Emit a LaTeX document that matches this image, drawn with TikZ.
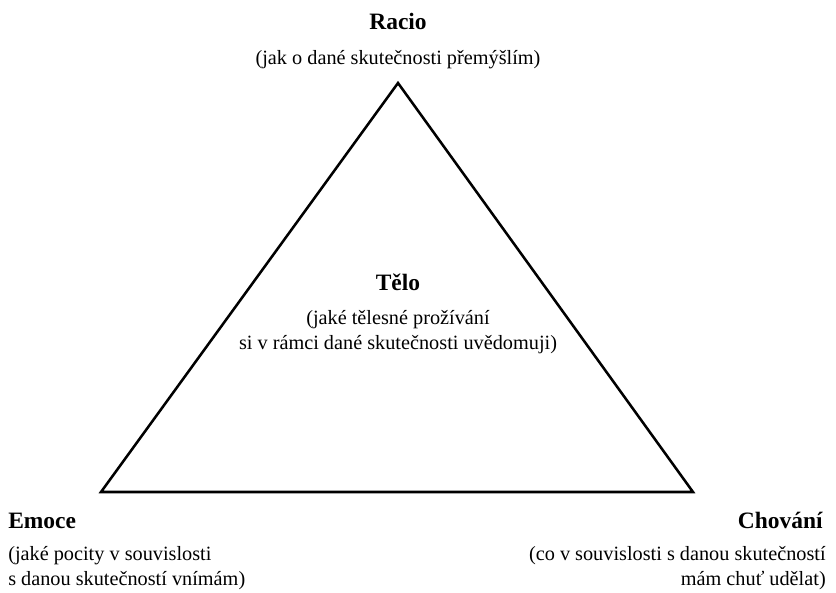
\documentclass[tikz,border=0pt]{standalone}
\usepackage{fontspec}
\setmainfont{Liberation Serif}
\begin{document}
\begin{tikzpicture}[x=0.75pt,y=-0.75pt,
  heading/.style={font=\fontsize{17.6}{20}\selectfont\bfseries,inner sep=0pt,anchor=base},
  descr/.style={font=\fontsize{15.2}{18.75}\selectfont,inner sep=0pt,anchor=base}]
  \useasboundingbox (0,0) rectangle (836,593);
  % vertices
  \coordinate (top) at (398,83);
  \coordinate (left) at (101,492);
  \coordinate (right) at (693,492);
  \draw[line width=1.9pt,line join=miter] (top) -- (left) -- (right) -- cycle;
  % top
  \node[heading] (racio) at (398,29) {Racio};
  \node[descr] (raciotxt) at (398,64) {(jak o dané skutečnosti přemýšlím)};
  % centre (base = last line)
  \node[heading] (telo) at (398,290) {Tělo};
  \node[descr,align=center] (telotxt) at (398,349) {(jaké tělesné prožívání\\si v rámci dané skutečnosti uvědomuji)};
  % bottom left
  \node[heading,anchor=base west] (emoce) at (8,528) {Emoce};
  \node[descr,align=left,anchor=base west] (emocetxt) at (8,585) {(jaké pocity v souvislosti\\s danou skutečností vnímám)};
  % bottom right
  \node[heading,anchor=base east] (chovani) at (823,528) {Chování};
  \node[descr,align=right,anchor=base east] (chovanitxt) at (826,585) {(co v souvislosti s danou skutečností\\mám chuť udělat)};
\end{tikzpicture}
\end{document}
